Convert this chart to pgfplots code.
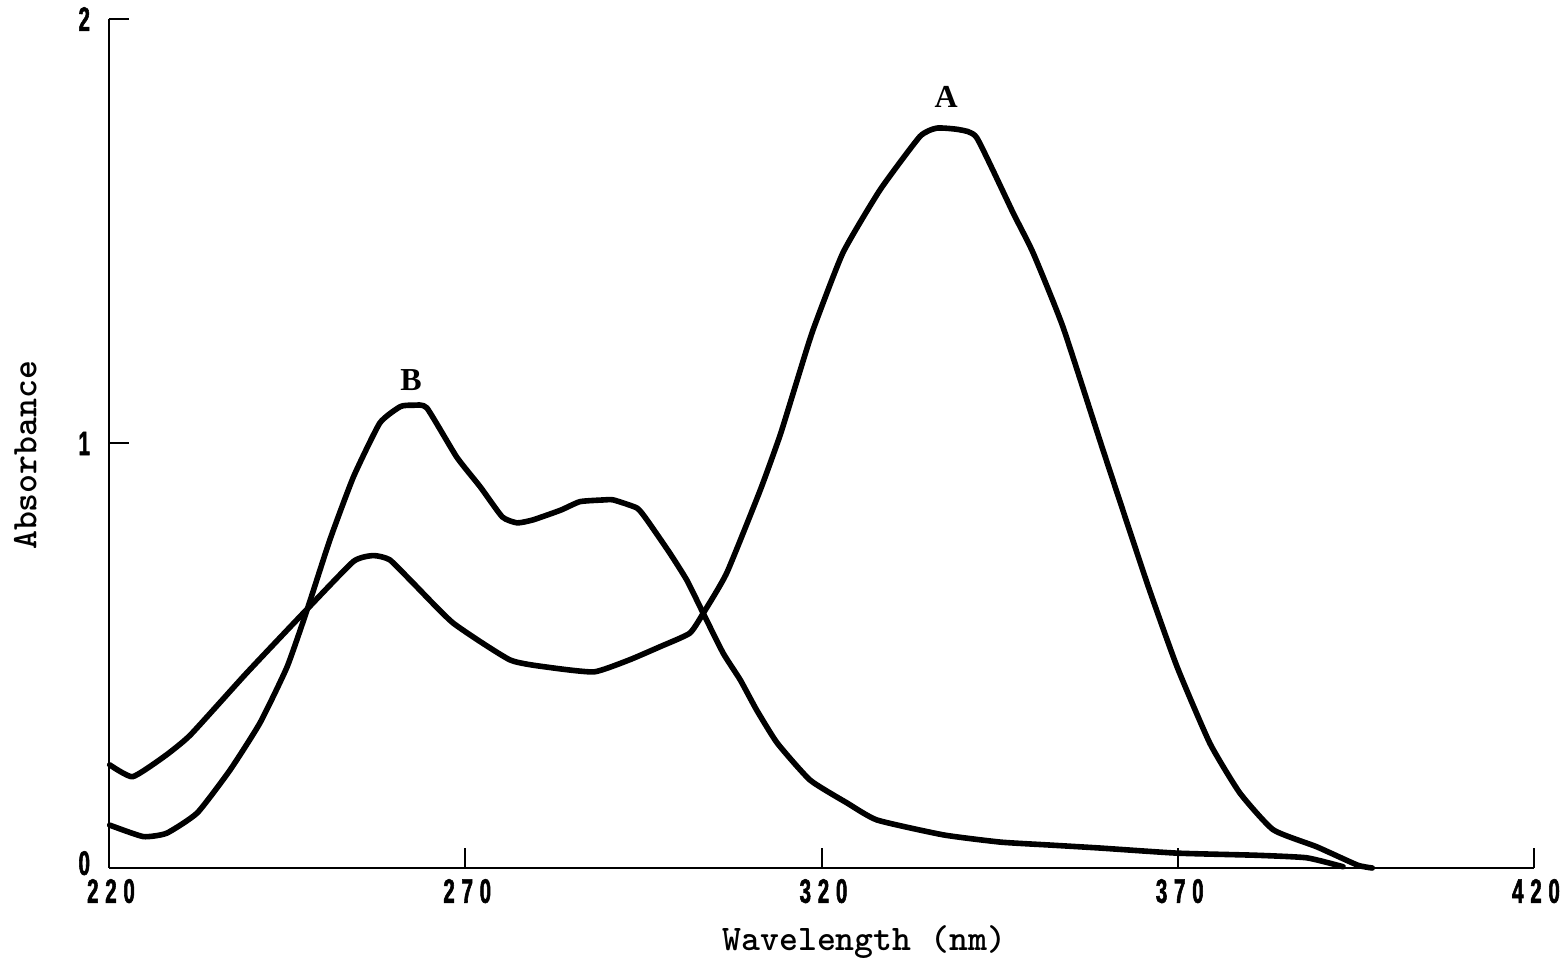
\documentclass[border=0pt]{standalone}
\usepackage{pgfplots}
\pgfplotsset{compat=1.18}
\usepackage{fontspec}
\newfontfamily\tickfont{Liberation Sans}[FakeStretch=0.6,LetterSpace=20,BoldFeatures={FakeBold=1.6}]
\newfontfamily\peakfont{Liberation Serif}

% Absorption spectra: wavelength (nm) vs absorbance
\pgfplotstableread{
nm     abs
220.1  0.243
223.3  0.215
227.7  0.262
231.4  0.313
239.3  0.459
247.7  0.608
254.3  0.722
257.1  0.736
259.4  0.726
262.7  0.671
268.3  0.577
276.3  0.490
282.0  0.472
288.1  0.462
293.0  0.490
297.3  0.521
301.5  0.553
303.4  0.600
306.7  0.695
311.4  0.890
314.2  1.020
316.6  1.150
318.8  1.267
323.0  1.449
328.2  1.597
333.8  1.723
336.2  1.743
339.4  1.739
341.8  1.720
346.9  1.543
349.7  1.449
353.9  1.274
359.5  0.985
365.7  0.671
369.9  0.474
374.5  0.294
378.7  0.177
383.4  0.090
389.5  0.050
395.2  0.007
397.3  0.000
}\spectrumA

\pgfplotstableread{
nm     abs
220.1  0.101
224.8  0.074
228.1  0.082
232.4  0.130
237.0  0.231
241.2  0.342
245.0  0.474
247.8  0.608
251.0  0.773
254.3  0.921
258.0  1.048
260.9  1.087
262.7  1.090
264.6  1.084
268.8  0.968
272.1  0.898
275.2  0.827
277.3  0.813
279.5  0.820
283.4  0.843
286.1  0.863
289.4  0.867
290.8  0.867
294.1  0.848
295.5  0.820
298.7  0.742
301.1  0.678
303.4  0.600
306.2  0.506
308.6  0.443
310.9  0.372
313.8  0.294
318.4  0.207
323.6  0.153
327.8  0.113
337.1  0.078
345.1  0.061
352.1  0.054
359.1  0.047
369.9  0.035
381.0  0.030
388.1  0.024
393.2  0.003
}\spectrumB

\begin{document}
\begin{tikzpicture}
\begin{axis}[
  scale only axis,
  width=712.5pt, height=424.5pt,
  xmin=220, xmax=420, ymin=0, ymax=2,
  axis x line=bottom, axis y line=left,
  axis line style={-, line width=1pt},
  xtick={220,270,320,370,420},
  ytick={0,1,2},
  yticklabels={\raisebox{5pt}{0},1,2},
  tick align=inside,
  major tick length=10pt,
  tick style={line width=1pt, black},
  every tick label/.append style={font=\tickfont\bfseries\fontsize{17}{17}\selectfont},
  /pgf/number format/assume math mode=true,
  xticklabel style={yshift=-2pt, xshift=1pt},
  yticklabel style={xshift=-6pt},
  xlabel={Wavelength (nm)},
  ylabel={Absorbance},
  label style={font=\ttfamily\bfseries\fontsize{18}{18}\selectfont},
  xlabel style={at={(axis description cs:0.53,-0.0872)}, anchor=center},
  ylabel style={at={(axis description cs:-0.0587,0.486)}, anchor=center},
  clip=false,
]
\addplot[black, line width=2.8pt, line join=round, line cap=round, smooth, tension=0.3] table[x=nm, y=abs] {\spectrumA};
\addplot[black, line width=2.8pt, line join=round, line cap=round, smooth, tension=0.3] table[x=nm, y=abs] {\spectrumB};
\node[font=\peakfont\bfseries\fontsize{16}{16}\selectfont] at (axis cs:337.5,1.816) {A};
\node[font=\peakfont\bfseries\fontsize{16}{16}\selectfont] at (axis cs:262.4,1.150) {B};
\end{axis}
\pgfresetboundingbox
\path (-54.5pt,-46.5pt) rectangle (726.5pt,434pt);
\end{tikzpicture}
\end{document}
